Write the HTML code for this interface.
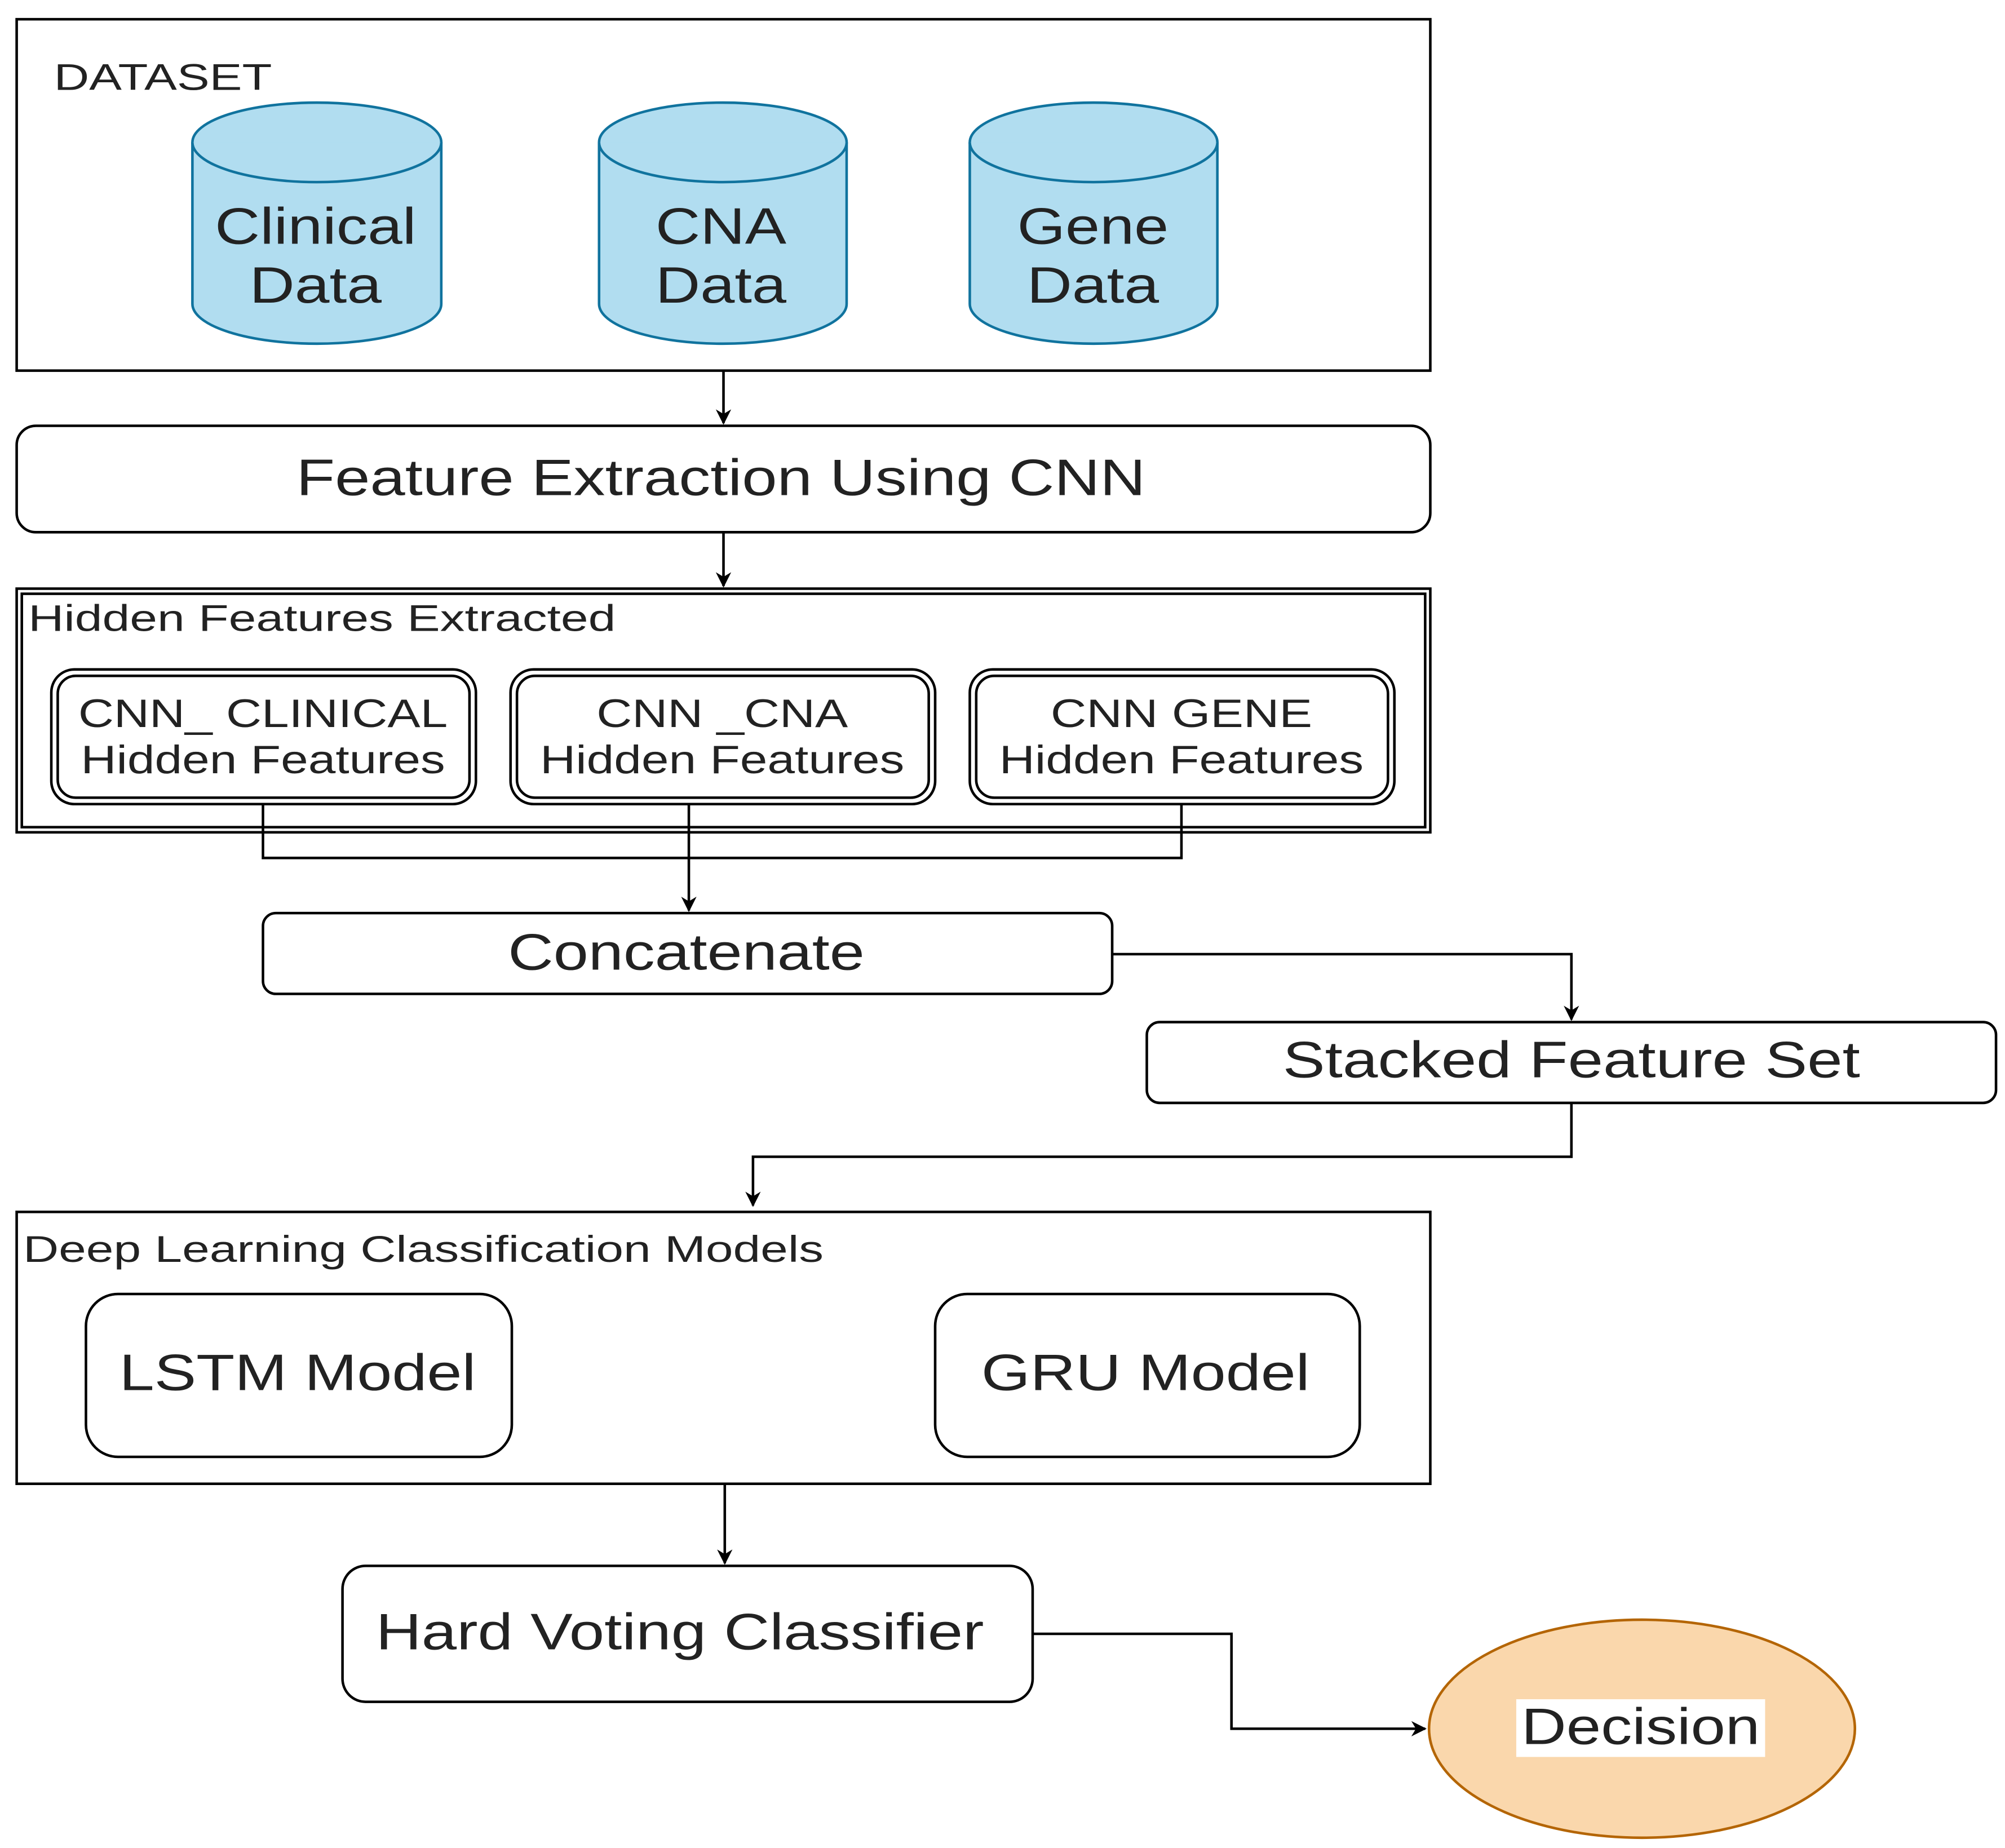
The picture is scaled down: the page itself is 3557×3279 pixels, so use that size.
<!DOCTYPE html>
<html><head><meta charset="utf-8"><style>
html,body{margin:0;padding:0;background:#fff;}
svg{display:block;}
text{font-family:"Liberation Sans",Arial,sans-serif;fill:#222;}
</style></head><body>
<svg width="3557" height="3279" viewBox="0 0 1563 1441" preserveAspectRatio="none" xmlns="http://www.w3.org/2000/svg">
<defs>
<marker id="b" viewBox="0 0 10 10" refX="9" refY="5" markerWidth="12" markerHeight="12" markerUnits="userSpaceOnUse" orient="auto">
<path d="M0,0 L10,5 L0,10 L3,5 z" fill="#000"/></marker>
</defs>
<g fill="none" stroke="#000" stroke-width="2">
<rect x="13" y="15" width="1102" height="274"/>
<rect x="13" y="332" width="1102" height="83" rx="15"/>
<rect x="13" y="459" width="1102" height="190"/>
<rect x="17" y="463" width="1094" height="182"/>
<rect x="40" y="522" width="331" height="105" rx="18"/>
<rect x="45" y="527" width="321" height="95" rx="14"/>
<rect x="398" y="522" width="331" height="105" rx="18"/>
<rect x="403" y="527" width="321" height="95" rx="14"/>
<rect x="756" y="522" width="331" height="105" rx="18"/>
<rect x="761" y="527" width="321" height="95" rx="14"/>
<rect x="205" y="712" width="662" height="63" rx="10"/>
<rect x="894" y="797" width="662" height="63" rx="10"/>
<rect x="13" y="945" width="1102" height="212"/>
<rect x="67" y="1009" width="332" height="127" rx="25"/>
<rect x="729" y="1009" width="331" height="127" rx="25"/>
<rect x="267" y="1221" width="538" height="106" rx="18"/>
<path d="M564 289 V330" marker-end="url(#b)"/>
<path d="M564 415 V457" marker-end="url(#b)"/>
<path d="M205 627 V669 H921 V627"/>
<path d="M537 627 V710" marker-end="url(#b)"/>
<path d="M867 744 H1225 V795" marker-end="url(#b)"/>
<path d="M1225 860 V902 H587 V940" marker-end="url(#b)"/>
<path d="M565 1157 V1219" marker-end="url(#b)"/>
<path d="M805 1274 H960 V1348 H1111" marker-end="url(#b)"/>
</g>
<g fill="#b1ddf0" stroke="#10739e" stroke-width="2">
<path d="M150 111 V237 A97 31 0 0 0 344 237 V111 A97 31 0 0 0 150 111 Z"/>
<path d="M150 111 A97 31 0 0 0 344 111"/>
<path d="M467 111 V237 A96.5 31 0 0 0 660 237 V111 A96.5 31 0 0 0 467 111 Z"/>
<path d="M467 111 A96.5 31 0 0 0 660 111"/>
<path d="M756 111 V237 A96.5 31 0 0 0 949 237 V111 A96.5 31 0 0 0 756 111 Z"/>
<path d="M756 111 A96.5 31 0 0 0 949 111"/>
</g>
<ellipse cx="1280" cy="1348" rx="166" ry="85" fill="#fad7ac" stroke="#b46504" stroke-width="2"/>
<rect x="1182" y="1325" width="194" height="45" fill="#fff"/>
<g font-size="40" text-anchor="middle">
<text x="246" y="190" textLength="157" lengthAdjust="spacingAndGlyphs">Clinical</text><text x="246" y="236" textLength="103" lengthAdjust="spacingAndGlyphs">Data</text>
<text x="562" y="190" textLength="102" lengthAdjust="spacingAndGlyphs">CNA</text><text x="562" y="236" textLength="102" lengthAdjust="spacingAndGlyphs">Data</text>
<text x="852" y="190" textLength="118" lengthAdjust="spacingAndGlyphs">Gene</text><text x="852" y="236" textLength="103" lengthAdjust="spacingAndGlyphs">Data</text>
<text x="562" y="386" textLength="662" lengthAdjust="spacingAndGlyphs">Feature Extraction Using CNN</text>
<text x="535" y="756" textLength="278" lengthAdjust="spacingAndGlyphs">Concatenate</text>
<text x="1225" y="840" textLength="450" lengthAdjust="spacingAndGlyphs">Stacked Feature Set</text>
<text x="232" y="1084" textLength="278" lengthAdjust="spacingAndGlyphs">LSTM Model</text>
<text x="893" y="1084" textLength="256" lengthAdjust="spacingAndGlyphs">GRU Model</text>
<text x="530" y="1286" textLength="474" lengthAdjust="spacingAndGlyphs">Hard Voting Classifier</text>
<text x="1279" y="1360" textLength="186" lengthAdjust="spacingAndGlyphs">Decision</text>
</g>
<g font-size="29">
<text x="42" y="70" textLength="170" lengthAdjust="spacingAndGlyphs">DATASET</text>
<text x="22" y="492" textLength="458" lengthAdjust="spacingAndGlyphs">Hidden Features Extracted</text>
<text x="18" y="984" textLength="624" lengthAdjust="spacingAndGlyphs">Deep Learning Classification Models</text>
</g>
<g font-size="31" text-anchor="middle">
<text x="205" y="567" textLength="288" lengthAdjust="spacingAndGlyphs">CNN_ CLINICAL</text>
<text x="205" y="603" textLength="284" lengthAdjust="spacingAndGlyphs">Hidden Features</text>
<text x="563" y="567" textLength="196" lengthAdjust="spacingAndGlyphs">CNN _CNA</text>
<text x="563" y="603" textLength="284" lengthAdjust="spacingAndGlyphs">Hidden Features</text>
<text x="921" y="567" textLength="204" lengthAdjust="spacingAndGlyphs">CNN GENE</text>
<text x="921" y="603" textLength="284" lengthAdjust="spacingAndGlyphs">Hidden Features</text>
</g>
</svg>
</body></html>
